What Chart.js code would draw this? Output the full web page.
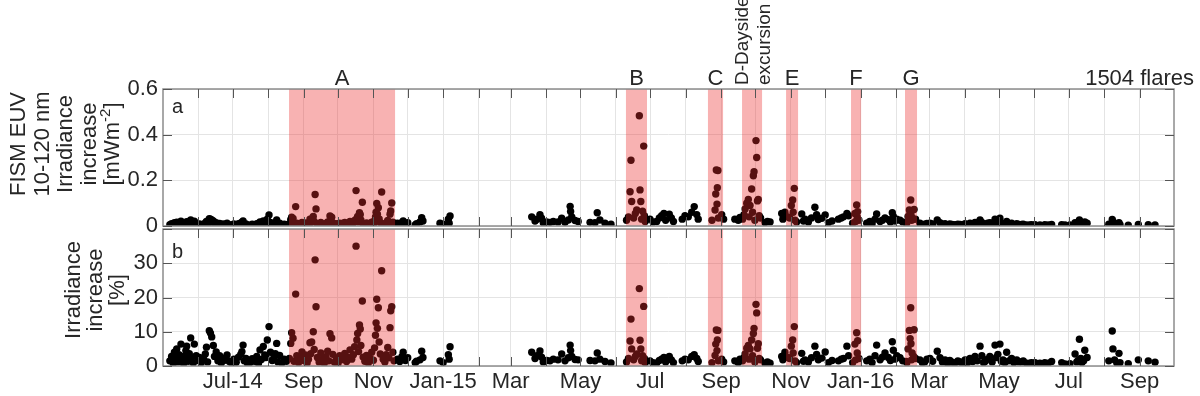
<!DOCTYPE html>
<html>
<head>
<meta charset="utf-8">
<script src="https://cdn.jsdelivr.net/npm/chart.js@4.4.1/dist/chart.umd.min.js"></script>
<style>
  html, body { margin: 0; padding: 0; background: #fff; }
  #wrap { position: relative; width: 1200px; height: 396px; }
  #wrap canvas { position: absolute; left: 0; top: 0; }
</style>
</head>
<body>
<div id="wrap">
  <canvas id="panelA" width="1200" height="396"></canvas>
  <canvas id="panelB" width="1200" height="396"></canvas>
</div>
<script>
// Axis range and month ticks
const xStart = '2014-05-01';
const xEnd = '2016-10-01';
const tickMonths = ['2014-06', '2014-07', '2014-08', '2014-09', '2014-10', '2014-11', '2014-12',
  '2015-01', '2015-02', '2015-03', '2015-04', '2015-05', '2015-06', '2015-07', '2015-08', '2015-09',
  '2015-10', '2015-11', '2015-12', '2016-01', '2016-02', '2016-03', '2016-04', '2016-05', '2016-06',
  '2016-07', '2016-08', '2016-09'];
const tickLabels = ['', 'Jul-14', '', 'Sep', '', 'Nov', '',
  'Jan-15', '', 'Mar', '', 'May', '', 'Jul', '', 'Sep',
  '', 'Nov', '', 'Jan-16', '', 'Mar', '', 'May', '',
  'Jul', '', 'Sep'];

const euvTicks = [0, 0.2, 0.4, 0.6];
const euvTickLabels = ['0', '0.2', '0.4', '0.6'];
const pctTicks = [0, 10, 20, 30, 40];
const pctTickLabels = ['0', '10', '20', '30', ''];

// Shaded event periods (days after 1 May 2014)
const bandStart = [110.2, 404.8, 476.5, 506.3, 544.8, 601.6, 648.8];
const bandEnd = [202.9, 423.2, 489.7, 523.8, 555.3, 610.4, 659.3];
const bandLabels = ['A', 'B', 'C', 'D-Dayside\nexcursion', 'E', 'F', 'G'];
const flareCountLabel = '1504 flares';

// Flares: day after 1 May 2014, EUV increase (mW/m2), relative increase (%)
const flareDay = [
  // May - Aug 2014
  6, 7.5, 9, 10, 11, 12, 13, 14, 15.7, 16.5, 18, 19, 20, 20.7, 22, 23, 24.2, 25, 26.5, 27.4, 29, 30.5, 32, 33.5,
  35.5, 37, 38, 39, 40.5, 41.5, 42.6, 44, 45, 46.5, 48, 49.5, 51, 52.5, 54, 56,
  58, 60, 62, 64, 66, 68, 69, 70, 71, 72.5, 74,
  76, 78, 80, 82, 83.5, 84.8, 86, 87.7, 89, 90, 91.2, 92.7, 94, 95.5, 97, 98.2, 99.4, 100.5, 102, 104, 106, 108,
  // period A
  110.5, 111.7, 112.5, 113.7, 114.5, 116.0, 117, 118.5, 120, 121.5, 123, 124.5, 126, 127.2, 128.5, 129.2, 130, 131.4, 132.2, 133,
  133.8, 135, 136.5, 138, 139.5, 141, 142.5, 144, 145, 146, 147.5, 148.5, 150, 151.5, 153, 154.5, 156, 157.5, 159, 160.5,
  162, 163.5, 165, 166.5, 167.5, 168.8, 169.5, 170.2, 171, 171.8, 172.5, 173, 174.3, 175, 176.5, 178, 179.5, 181, 182.5, 184,
  185, 185.8, 186.3, 186.9, 187.5, 188.3, 189, 190, 191.2, 192.5, 194, 195.2, 196.5, 197.5, 198.5, 199.1, 200, 201, 202,
  // Dec 2014 - Jan 2015
  205, 207, 209, 210, 212, 214, 220.5, 221.7, 224.7, 226.2, 227.3, 242.2, 245, 249.5, 250.2, 251,
  // Apr - May 2015
  322.4, 325.3, 327, 329.6, 331, 332.5, 335.5, 338.4, 341.3, 345.4, 348.6, 351.5, 354.4, 356, 356.4, 357.4, 360.3, 363,
  373.4, 377.7, 379.7, 382, 386.5, 391.7,
  // period B
  405.3, 407, 408.4, 409.2, 409.8, 411.5, 413, 414.2, 416.5, 417.1, 417.8, 418.5, 419.3, 420.3, 420.9, 421.6,
  // Jul - Aug 2015
  425.8, 428.5, 431.7, 434, 436, 438, 439.5, 442.7, 444.5, 446.3, 454, 456.4, 459.3, 462.3, 464.5, 466.7, 468,
  // period C
  480, 482.7, 483.3, 483.8, 484.4, 484.7, 485.2, 485.6, 488.5, 490.2, 500, 503, 504.5,
  // period D
  506.8, 508, 509, 510.4, 511.8, 512.5, 513.3, 514.7, 515.5, 516.2, 516.8, 517.5, 518.5, 519.1, 519.8, 520.5, 521.3, 522.5,
  526.4, 528.5, 530.8, 541, 542, 543.8,
  // period E
  546.5, 548, 549.4, 550.6, 551, 552, 552.6, 554,
  558.5, 560, 561.4, 564.3, 567, 570, 571.5, 573, 576, 579, 581.8, 585, 590.6, 593, 595, 598, 599.5,
  // period F
  603, 605, 605.6, 606.5, 607, 607.4, 608.5,
  615.3, 618, 620, 622.6, 624, 627, 629, 631.3, 634.2, 636, 637.7, 638.6, 640, 641.6, 644.4, 646.8,
  // period G
  650, 650.5, 651.5, 652.6, 653.3, 653.8, 654, 654.6, 655, 656.4, 656.7, 658,
  // Feb - Sep 2016
  661.8, 664, 666, 668, 670.6, 673, 677, 679.4, 681.5, 683.8,
  686, 688, 690, 692.5, 695, 697, 699, 701.3, 703.5, 705.6,
  708, 710, 712, 714.4, 716, 717.5, 718.8, 721, 723, 725,
  727.5, 728.7, 730, 731.8, 733, 734.5, 736, 737.7, 739.5, 742,
  744, 746.5, 748.5, 750.8, 752.2, 755.2, 758, 759.5, 762.5, 766.8,
  771, 774, 777, 785.8, 788.7, 793, 797.5, 799, 800.2, 801.3,
  802.5, 803.4, 805, 806, 808, 827, 830, 830.6, 832, 834,
  835.9, 836.8, 844, 852.8, 861.5, 867.4
];

const euvIncrease = [
  0.006, 0.010, 0.004, 0.014, 0.008, 0.017, 0.005, 0.012, 0.021, 0.007, 0.003, 0.010, 0.015, 0.019, 0.006, 0.013, 0.026, 0.009, 0.004, 0.021, 0.011, 0.006, 0.009, 0.004,
  0.008, 0.013, 0.020, 0.005, 0.032, 0.030, 0.027, 0.022, 0.010, 0.015, 0.006, 0.011, 0.004, 0.009, 0.007, 0.012,
  0.006, 0.004, 0.009, 0.005, 0.010, 0.013, 0.016, 0.022, 0.007, 0.009, 0.004,
  0.004, 0.008, 0.006, 0.010, 0.004, 0.018, 0.008, 0.022, 0.012, 0.010, 0.030, 0.048, 0.016, 0.007, 0.010, 0.014, 0.026, 0.005, 0.012, 0.004, 0.008, 0.006,
  0.010, 0.028, 0.038, 0.033, 0.006, 0.085, 0.012, 0.005, 0.010, 0.016, 0.007, 0.013, 0.004, 0.009, 0.030, 0.015, 0.031, 0.042, 0.020, 0.138,
  0.075, 0.010, 0.005, 0.016, 0.008, 0.004, 0.011, 0.018, 0.007, 0.044, 0.038, 0.014, 0.005, 0.010, 0.004, 0.012, 0.008, 0.012, 0.016, 0.006,
  0.011, 0.020, 0.009, 0.014, 0.024, 0.155, 0.033, 0.042, 0.018, 0.058, 0.050, 0.027, 0.104, 0.011, 0.006, 0.013, 0.004, 0.009, 0.017, 0.007,
  0.023, 0.040, 0.060, 0.099, 0.052, 0.080, 0.031, 0.015, 0.149, 0.009, 0.005, 0.014, 0.024, 0.010, 0.052, 0.066, 0.101, 0.017, 0.007,
  0.012, 0.008, 0.016, 0.022, 0.010, 0.014, 0.005, 0.010, 0.018, 0.036, 0.022, 0.012, 0.008, 0.030, 0.012, 0.044,
  0.040, 0.022, 0.030, 0.050, 0.034, 0.014, 0.018, 0.016, 0.020, 0.018, 0.034, 0.016, 0.026, 0.086, 0.064, 0.040, 0.024, 0.020,
  0.016, 0.014, 0.058, 0.026, 0.012, 0.008,
  0.025, 0.040, 0.150, 0.288, 0.107, 0.035, 0.055, 0.070, 0.483, 0.158, 0.107, 0.030, 0.065, 0.350, 0.045, 0.020,
  0.030, 0.018, 0.020, 0.035, 0.045, 0.055, 0.025, 0.052, 0.035, 0.020, 0.030, 0.045, 0.040, 0.060, 0.085, 0.050, 0.030,
  0.025, 0.070, 0.140, 0.245, 0.096, 0.168, 0.243, 0.035, 0.050, 0.030, 0.030, 0.025, 0.037,
  0.030, 0.050, 0.075, 0.100, 0.116, 0.040, 0.090, 0.162, 0.060, 0.220, 0.238, 0.025, 0.374, 0.300, 0.110, 0.116, 0.045, 0.035,
  0.015, 0.020, 0.018, 0.055, 0.030, 0.060,
  0.040, 0.035, 0.090, 0.114, 0.060, 0.165, 0.025, 0.018,
  0.053, 0.022, 0.030, 0.018, 0.035, 0.082, 0.050, 0.028, 0.034, 0.048, 0.015, 0.022, 0.030, 0.035, 0.040, 0.055, 0.045,
  0.012, 0.055, 0.020, 0.092, 0.040, 0.063, 0.025,
  0.012, 0.020, 0.010, 0.030, 0.053, 0.020, 0.025, 0.035, 0.028, 0.018, 0.058, 0.042, 0.022, 0.030, 0.025, 0.018,
  0.012, 0.015, 0.042, 0.070, 0.060, 0.114, 0.050, 0.025, 0.035, 0.030, 0.072, 0.030,
  0.012, 0.007, 0.008, 0.011, 0.012, 0.009, 0.026, 0.014, 0.008, 0.010,
  0.006, 0.009, 0.007, 0.006, 0.008, 0.007, 0.005, 0.010, 0.006, 0.012,
  0.008, 0.016, 0.009, 0.026, 0.016, 0.006, 0.008, 0.012, 0.015, 0.007,
  0.030, 0.014, 0.018, 0.034, 0.008, 0.010, 0.006, 0.020, 0.008, 0.012,
  0.006, 0.010, 0.007, 0.007, 0.008, 0.005, 0.005, 0.006, 0.006, 0.005,
  0.006, 0.005, 0.007, 0.006, 0.005, 0.005, 0.015, 0.008, 0.010, 0.026,
  0.012, 0.007, 0.009, 0.018, 0.012, 0.008, 0.029, 0.020, 0.010, 0.006,
  0.015, 0.006, 0.004, 0.007, 0.006, 0.005
];

const pctIncrease = [
  1.5, 2.8, 0.8, 4.0, 2.2, 5.0, 1.2, 3.3, 6.4, 1.9, 0.7, 2.9, 4.5, 5.8, 1.4, 3.6, 8.2, 2.4, 0.9, 6.4, 3.0, 1.6, 2.5, 1.0,
  2.0, 3.5, 5.5, 1.2, 10.3, 9.6, 8.5, 6.0, 2.8, 4.1, 1.5, 3.0, 0.9, 2.3, 1.7, 3.2,
  1.3, 0.8, 2.0, 1.1, 2.6, 3.4, 4.2, 6.1, 1.5, 2.2, 0.7,
  1.0, 2.1, 1.4, 2.8, 0.8, 4.7, 1.9, 5.7, 3.2, 2.5, 7.6, 11.5, 4.0, 1.6, 2.4, 3.6, 6.6, 1.2, 3.1, 0.9, 2.0, 1.4,
  2.2, 6.6, 9.7, 8.1, 1.4, 21.0, 3.0, 1.0, 2.4, 4.1, 1.6, 3.2, 0.9, 2.0, 6.8, 3.6, 7.0, 10.0, 4.8, 31.0,
  17.3, 2.5, 1.2, 3.8, 1.9, 0.8, 2.7, 4.3, 1.5, 9.4, 8.2, 3.4, 1.1, 2.3, 0.7, 3.0, 1.8, 2.9, 3.7, 1.3,
  2.5, 4.7, 2.0, 3.3, 5.6, 35.0, 7.6, 9.5, 4.2, 12.0, 10.8, 6.0, 19.0, 2.6, 1.4, 3.1, 0.9, 2.2, 4.0, 1.7,
  5.3, 9.0, 12.6, 19.5, 11.0, 17.0, 7.0, 3.5, 27.8, 2.0, 1.2, 3.3, 5.4, 2.4, 11.2, 16.1, 17.3, 4.0, 1.5,
  2.0, 1.3, 2.8, 4.0, 1.6, 2.4, 1.0, 1.4, 1.8, 4.3, 2.5, 1.5, 1.0, 3.3, 2.0, 5.6,
  4.0, 2.2, 3.0, 4.4, 2.6, 1.2, 1.6, 1.5, 2.0, 1.8, 3.5, 1.5, 2.4, 6.1, 4.5, 2.8, 1.9, 1.8,
  1.6, 1.5, 3.8, 2.0, 1.3, 0.9,
  1.2, 2.2, 7.3, 13.7, 5.0, 1.8, 2.8, 3.5, 22.6, 7.5, 5.0, 1.5, 3.0, 17.4, 2.2, 1.0,
  1.5, 1.0, 0.9, 1.6, 2.0, 2.5, 1.2, 2.8, 1.8, 1.0, 1.5, 2.0, 1.8, 2.8, 3.3, 2.2, 1.3,
  1.0, 3.1, 6.4, 10.5, 4.5, 7.6, 10.4, 1.5, 2.0, 1.2, 1.5, 1.0, 2.0,
  1.5, 2.4, 3.5, 5.2, 6.0, 2.0, 5.0, 7.6, 3.0, 9.5, 11.0, 1.2, 18.0, 15.5, 5.2, 6.5, 2.2, 1.8,
  0.8, 1.2, 0.8, 2.8, 1.8, 4.0,
  2.5, 2.2, 5.8, 7.6, 3.8, 11.5, 1.5, 1.0,
  3.7, 1.4, 1.8, 1.2, 2.4, 5.8, 3.4, 1.8, 2.3, 4.1, 1.0, 1.6, 1.5, 2.0, 2.2, 5.8, 3.0,
  1.0, 6.4, 1.8, 9.7, 3.8, 7.4, 2.2,
  1.5, 2.0, 1.0, 3.0, 6.1, 1.8, 2.6, 3.8, 2.5, 1.6, 7.1, 4.6, 2.0, 3.0, 2.4, 1.5,
  1.3, 1.0, 5.0, 10.4, 8.0, 17.0, 6.5, 1.8, 3.8, 2.8, 10.6, 2.2,
  1.8, 1.0, 1.2, 2.0, 2.2, 1.4, 4.3, 2.4, 1.2, 1.8,
  0.8, 1.6, 1.1, 0.9, 1.5, 1.2, 0.8, 1.8, 1.0, 2.2,
  1.3, 2.8, 1.5, 5.8, 3.0, 1.0, 1.3, 2.0, 2.8, 1.2,
  6.1, 2.5, 3.4, 6.4, 1.4, 1.8, 1.0, 4.0, 1.5, 2.2,
  1.0, 1.8, 1.2, 1.2, 1.5, 0.8, 0.8, 1.0, 1.0, 0.8,
  1.0, 0.8, 1.3, 1.0, 0.6, 0.7, 3.5, 1.2, 1.6, 7.8,
  2.2, 1.0, 1.5, 4.6, 2.5, 1.5, 10.2, 5.0, 1.8, 0.9,
  3.7, 1.0, 0.7, 1.8, 1.5, 1.1
];

const FONT = '"Liberation Sans", Arial, Helvetica, sans-serif';
const INK = '#262626';
const TICK = 9;

// days after xStart
function dayOf(iso) {
  const [y, m, d] = iso.split('-').map(Number);
  const [y0, m0, d0] = xStart.split('-').map(Number);
  return (Date.UTC(y, m - 1, d || 1) - Date.UTC(y0, m0 - 1, d0)) / 86400000;
}
const tickDays = tickMonths.map(m => dayOf(m + '-01'));

// text with ^{...} superscripts
function drawRichText(ctx, line, x, y, size, align) {
  const parts = line.split(/\^\{([^}]*)\}/);
  const supSize = Math.round(size * 0.7);
  let w = 0;
  parts.forEach((p, i) => {
    ctx.font = `${i % 2 ? supSize : size}px ${FONT}`;
    w += ctx.measureText(p).width;
  });
  let cx = align === 'center' ? x - w / 2 : x;
  ctx.textAlign = 'left';
  parts.forEach((p, i) => {
    const sup = i % 2 === 1;
    ctx.font = `${sup ? supSize : size}px ${FONT}`;
    ctx.fillText(p, cx, sup ? y - size * 0.4 : y);
    cx += ctx.measureText(p).width;
  });
}

// MATLAB-like look: shaded periods over the markers, box, inward ticks, labels
const matlabLook = {
  id: 'matlabLook',
  afterDatasetsDraw(chart) {
    const { ctx, chartArea: a, scales: { x } } = chart;
    ctx.save();
    ctx.fillStyle = 'rgba(235, 45, 45, 0.37)';
    bandStart.forEach((s, i) => {
      const x0 = x.getPixelForValue(s);
      const x1 = x.getPixelForValue(bandEnd[i]);
      ctx.fillRect(x0, a.top, x1 - x0, a.bottom - a.top);
    });
    ctx.restore();
  },
  afterDraw(chart, args, o) {
    const { ctx, chartArea: a, scales: { x, y } } = chart;
    ctx.save();
    ctx.strokeStyle = '#8c8c8c';
    ctx.lineWidth = 1.5;
    ctx.strokeRect(a.left, a.top, a.right - a.left, a.bottom - a.top);

    ctx.strokeStyle = '#555';
    ctx.lineWidth = 1;
    ctx.beginPath();
    x.ticks.forEach(t => {
      const px = Math.round(x.getPixelForValue(t.value)) + 0.5;
      ctx.moveTo(px, a.bottom); ctx.lineTo(px, a.bottom - TICK);
      ctx.moveTo(px, a.top); ctx.lineTo(px, a.top + TICK);
    });
    y.ticks.forEach(t => {
      const py = Math.round(y.getPixelForValue(t.value)) + 0.5;
      ctx.moveTo(a.left, py); ctx.lineTo(a.left + TICK, py);
      ctx.moveTo(a.right, py); ctx.lineTo(a.right - TICK, py);
    });
    ctx.stroke();

    ctx.fillStyle = INK;
    ctx.textBaseline = 'alphabetic';
    ctx.font = `20px ${FONT}`;
    ctx.textAlign = 'left';
    ctx.fillText(o.letter, a.left + 9, a.top + o.letterDrop);

    o.title.forEach((line, i) => {
      ctx.save();
      ctx.translate(o.titleX + i * o.titleGap, o.titleY);
      ctx.rotate(-Math.PI / 2);
      drawRichText(ctx, line, 0, 0, 22, 'center');
      ctx.restore();
    });

    if (o.showBands) {
      bandLabels.forEach((lab, i) => {
        const cx = (x.getPixelForValue(bandStart[i]) + x.getPixelForValue(bandEnd[i])) / 2;
        const lines = lab.split('\n');
        if (lines.length > 1) {
          ctx.font = `19px ${FONT}`;
          lines.forEach((ln, j) => {
            ctx.save();
            ctx.translate(cx - 4 + j * 22, a.top - 4);
            ctx.rotate(-Math.PI / 2);
            ctx.textAlign = 'left';
            ctx.fillText(ln, 0, 0);
            ctx.restore();
          });
        } else {
          ctx.font = `22px ${FONT}`;
          ctx.textAlign = 'center';
          ctx.fillText(lab, cx, a.top - 4);
        }
      });
      ctx.font = `22px ${FONT}`;
      ctx.textAlign = 'right';
      ctx.fillText(flareCountLabel, a.right + 20, a.top - 4);
    }
    ctx.restore();
  }
};

function xAxis(showLabels, bottomSpace) {
  return {
    type: 'linear',
    min: dayOf(xStart),
    max: dayOf(xEnd),
    afterBuildTicks: s => { s.ticks = tickDays.map(v => ({ value: v })); },
    afterFit: s => { s.height = bottomSpace; },
    grid: { color: '#e4e4e4', lineWidth: 1, drawTicks: false },
    border: { display: false },
    ticks: {
      display: showLabels, autoSkip: false, maxRotation: 0, minRotation: 0, padding: 3,
      color: INK, font: { family: FONT, size: 22 },
      callback: (v, i) => tickLabels[i]
    }
  };
}

function yAxis(ticks, labels, max) {
  return {
    min: 0,
    max: max,
    afterBuildTicks: s => { s.ticks = ticks.map(v => ({ value: v })); },
    afterFit: s => { s.width = 163; },
    grid: { color: '#e4e4e4', lineWidth: 1, drawTicks: false },
    border: { display: false },
    ticks: {
      padding: 5, color: INK, font: { family: FONT, size: 22 },
      callback: (v, i) => labels[i]
    }
  };
}

function makePanel(id, values, yTicks, yLabels, yMax, showXLabels, padTop, bottomSpace, look) {
  return new Chart(document.getElementById(id), {
    type: 'scatter',
    data: {
      datasets: [{
        data: flareDay.map((d, i) => ({ x: d, y: values[i] })),
        backgroundColor: '#000',
        borderWidth: 0,
        pointRadius: 3.7,
        pointHoverRadius: 3.7
      }]
    },
    options: {
      responsive: false,
      animation: false,
      events: [],
      devicePixelRatio: 1,
      layout: { autoPadding: false, padding: { top: padTop, right: 26, left: 0, bottom: 0 } },
      scales: {
        x: xAxis(showXLabels, bottomSpace),
        y: yAxis(yTicks, yLabels, yMax)
      },
      plugins: {
        legend: { display: false },
        tooltip: { enabled: false },
        matlabLook: look
      }
    },
    plugins: [matlabLook]
  });
}

makePanel('panelA', euvIncrease, euvTicks, euvTickLabels, 0.6, false, 89, 170, {
  letter: 'a', letterDrop: 24,
  title: ['FISM EUV', '10-120 nm', 'Irradiance', 'increase', '[mWm^{-2}]'],
  titleX: 25, titleGap: 23.5, titleY: 144,
  showBands: true
});

makePanel('panelB', pctIncrease, pctTicks, pctTickLabels, 40, true, 229, 30, {
  letter: 'b', letterDrop: 29,
  title: ['Irradiance', 'increase', '[%]'],
  titleX: 80, titleGap: 22, titleY: 290,
  showBands: false
});
</script>
</body>
</html>
